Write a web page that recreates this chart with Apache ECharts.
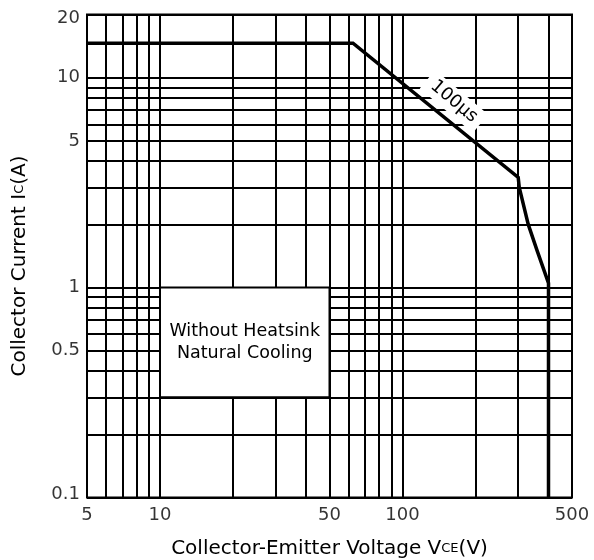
<!DOCTYPE html>
<html>
<head>
<meta charset="utf-8">
<title>Safe Operating Area</title>
<script src="https://cdn.jsdelivr.net/npm/echarts@6.0.0/dist/echarts.min.js"></script>
<style>
  html, body { margin: 0; padding: 0; background: #fff; }
  #soaChart { width: 594px; height: 560px; }
</style>
</head>
<body>
<div id="soaChart"></div>
<script>
// axis range
const vceMin = 5, vceMax = 500;
const icMin = 0.1, icMax = 20;

// tick labels
const vceTicks = [5, 10, 50, 100, 500];
const icTicks = [0.1, 0.5, 1, 5, 10, 20];

// grid lines, 1..9 in every decade
const vceGrid = [5, 6, 7, 8, 9, 10, 20, 30, 40, 50, 60, 70, 80, 90, 100, 200, 300, 400, 500];
const icGrid = [0.1, 0.2, 0.3, 0.4, 0.5, 0.6, 0.7, 0.8, 0.9, 1, 2, 3, 4, 5, 6, 7, 8, 9, 10, 20];

// 100us boundary
const curveVce = [5, 62.5, 300, 303, 330, 359, 400, 400];
const curveIc = [14.6, 14.6, 3.35, 3.0, 2.0, 1.5, 1.05, 0.1];

// note box
const boxVce = [10, 50];
const boxIc = [1, 0.3];
const boxText = "Without Heatsink\nNatural Cooling";

// 100us tag
const tagVce = 163, tagIc = 7.7;
const tagText = "100µs";

const FONT = "DejaVu Sans";

let myChart = echarts.init(document.getElementById("soaChart"), null, { renderer: "canvas" });

let options = {
  animation: false,
  backgroundColor: "#fff",
  grid: {
    left: 87,
    right: 22,
    top: 14.5,
    bottom: 62.5,
    containLabel: false,
    outerBoundsMode: "none",
    show: true,
    backgroundColor: "#fff",
    borderColor: "#000",
    borderWidth: 2,
  },
  xAxis: {
    type: "log",
    logBase: 10,
    min: vceMin,
    max: vceMax,
    axisLine: { show: false },
    axisTick: { show: false },
    axisLabel: { show: false },
    splitLine: { show: false },
    name: "Collector-Emitter Voltage V{s|CE}(V)",
    nameLocation: "middle",
    nameGap: 40,
    nameTextStyle: {
      fontFamily: FONT,
      fontSize: 20,
      color: "#000",
      lineHeight: 22,
      rich: { s: { fontFamily: FONT, fontSize: 13, color: "#000" } },
    },
  },
  yAxis: {
    type: "log",
    logBase: 10,
    min: icMin,
    max: icMax,
    axisLine: { show: false },
    axisTick: { show: false },
    axisLabel: { show: false },
    splitLine: { show: false },
    name: "Collector Current I{s|C}(A)",
    nameLocation: "middle",
    nameGap: 56,
    nameTextStyle: {
      fontFamily: FONT,
      fontSize: 20,
      color: "#000",
      lineHeight: 22,
      padding: [0, 20, 0, 0],
      rich: { s: { fontFamily: FONT, fontSize: 13, color: "#000" } },
    },
  },
  series: [
    {
      // grid lines and the note box
      name: "grid",
      type: "line",
      data: [[vceMin, icMin]],
      symbol: "none",
      lineStyle: { width: 0 },
      silent: true,
      markLine: {
        z: 1,
        silent: true,
        symbol: ["none", "none"],
        label: { show: false },
        emphasis: { disabled: true },
        lineStyle: { color: "#000", width: 2, type: "solid" },
        data: vceGrid.map((v) => ({ xAxis: v })).concat(icGrid.map((v) => ({ yAxis: v }))),
      },
      markArea: {
        z: 3,
        silent: true,
        emphasis: { disabled: true },
        itemStyle: { color: "#fff", borderColor: "#000", borderWidth: 2, opacity: 1 },
        label: {
          show: true,
          position: "inside",
          formatter: boxText,
          fontFamily: FONT,
          fontSize: 17.5,
          lineHeight: 22,
          color: "#000",
        },
        data: [[{ coord: [boxVce[0], boxIc[0]] }, { coord: [boxVce[1], boxIc[1]] }]],
      },
    },
    {
      name: "100us",
      type: "line",
      z: 5,
      data: curveVce.map((v, i) => [v, curveIc[i]]),
      symbol: "none",
      silent: true,
      lineStyle: { color: "#000", width: 3.5, join: "miter" },
      markPoint: {
        z: 6,
        silent: true,
        symbolSize: 0,
        label: {
          show: true,
          position: "inside",
          formatter: tagText,
          rotate: -40,
          fontFamily: FONT,
          fontSize: 18,
          color: "#000",
          backgroundColor: "#fff",
          padding: [3, 7],
        },
        data: [{ coord: [tagVce, tagIc] }],
      },
    },
    {
      // x tick labels
      name: "xTicks",
      type: "scatter",
      z: 6,
      silent: true,
      clip: false,
      symbolSize: 0,
      data: vceTicks.map((v) => [v, icMin]),
      label: {
        show: true,
        position: "bottom",
        distance: 9,
        formatter: (p) => String(p.value[0]),
        fontFamily: FONT,
        fontSize: 18,
        color: "#000",
      },
    },
    {
      // y tick labels
      name: "yTicks",
      type: "scatter",
      z: 6,
      silent: true,
      clip: false,
      symbolSize: 0,
      data: icTicks.map((v) => {
        let item = { value: [vceMin, v] };
        if (v === icMax) item.label = { offset: [0, 4] };
        if (v === icMin) item.label = { offset: [0, -3] };
        return item;
      }),
      label: {
        show: true,
        position: "left",
        distance: 7,
        formatter: (p) => String(p.value[1]),
        fontFamily: FONT,
        fontSize: 18,
        color: "#000",
      },
    },
  ],
};

myChart.setOption(options);
</script>
</body>
</html>
